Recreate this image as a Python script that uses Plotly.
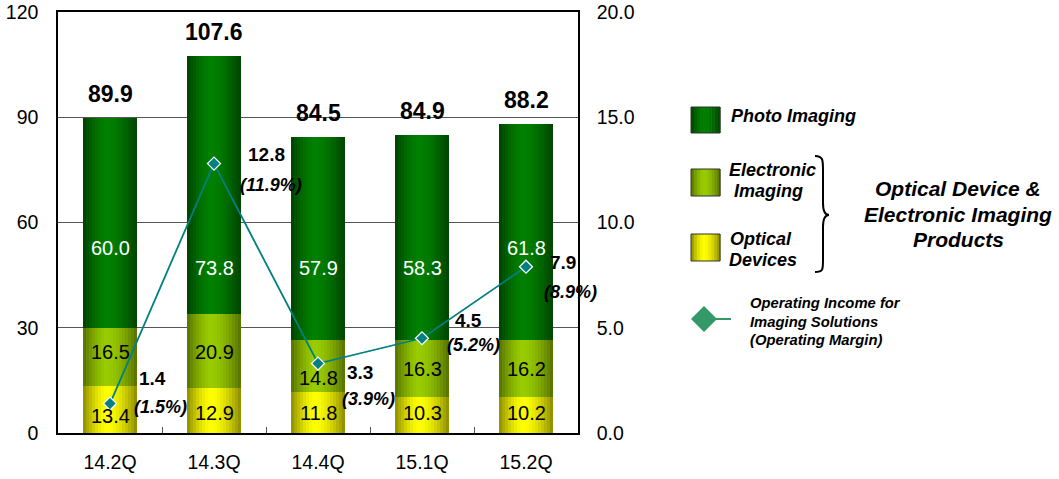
import plotly.graph_objects as go

# ---- data ----
quarters = ["14.2Q", "14.3Q", "14.4Q", "15.1Q", "15.2Q"]
optical_devices = [13.4, 12.9, 11.8, 10.3, 10.2]
electronic_imaging = [16.5, 20.9, 14.8, 16.3, 16.2]
photo_imaging = [60.0, 73.8, 57.9, 58.3, 61.8]
totals = [89.9, 107.6, 84.5, 84.9, 88.2]
operating_income = [1.4, 12.8, 3.3, 4.5, 7.9]
operating_margin = [1.5, 11.9, 3.9, 5.2, 8.9]

# ---- geometry of the page (pixels) ----
W, H = 1059, 479
PL, PR, PT, PB = 58, 578, 12, 433   # plot area edges


def px(x):
    return (x - PL) / (PR - PL)


def py(y):
    return (PB - y) / (PB - PT)


def mix(c1, c2, t):
    return "rgb(%d,%d,%d)" % tuple(round(a + (b - a) * t) for a, b in zip(c1, c2))


def shade(pos, peak=0.45, power=1.6):
    d = abs(pos - peak) / (peak if pos < peak else 1 - peak)
    return 1 - min(d, 1) ** power


FONT = "Liberation Sans, Arial, sans-serif"
fig = go.Figure()

# ---- stacked bars with a horizontal shading (edge dark -> centre bright) ----
BAR_W = 0.52
N_SLICES = 18
PHOTO_C = ((0x00, 0x42, 0x00), (0x00, 0x80, 0x00))
ELEC_C = ((0x55, 0x70, 0x00), (0x99, 0xcc, 0x00))
OPT_C = ((0x8a, 0x8a, 0x00), (0xff, 0xff, 0x00))
segments = [
    (optical_devices, [0.0] * 5, OPT_C),
    (electronic_imaging, optical_devices, ELEC_C),
    (photo_imaging, [a + b for a, b in zip(optical_devices, electronic_imaging)], PHOTO_C),
]
sw = BAR_W / N_SLICES
for vals, base, (edge, centre) in segments:
    for i in range(N_SLICES):
        t = shade((i + 0.5) / N_SLICES)
        fig.add_trace(go.Bar(
            x=quarters, y=vals, base=base,
            width=sw * 1.2 if i < N_SLICES - 1 else sw, offset=-BAR_W / 2 + i * sw,
            marker=dict(color=mix(edge, centre, t), line=dict(width=0)),
            showlegend=False, hoverinfo="skip",
        ))

# ---- operating income line ----
fig.add_trace(go.Scatter(
    x=quarters, y=operating_income, yaxis="y2", mode="lines+markers",
    line=dict(color="#008080", width=1.8),
    marker=dict(symbol="diamond", size=10, color="#008080",
                line=dict(color="white", width=1.2)),
    showlegend=False, hoverinfo="skip",
))

ann = []

# segment labels (pixel rows for each label)
photo_rows = [248, 268, 268, 268, 248]
elec_rows = [352, 352, 378, 369, 369]
opt_rows = [416, 413, 413, 413, 413]
for vals, rows, col in [(photo_imaging, photo_rows, "white"),
                        (electronic_imaging, elec_rows, "black"),
                        (optical_devices, opt_rows, "black")]:
    for q, v, r in zip(quarters, vals, rows):
        ann.append(dict(x=q, xref="x", y=py(r), yref="paper", text=f"{v:.1f}",
                        xanchor="center", yanchor="middle", showarrow=False,
                        font=dict(family=FONT, size=20, color=col)))

# totals above the bars
for q, t in zip(quarters, totals):
    ann.append(dict(x=q, xref="x", y=t, yref="y", text=f"<b>{t:.1f}</b>",
                    xanchor="center", yanchor="bottom", yshift=9, showarrow=False,
                    font=dict(family=FONT, size=23, color="black")))

# operating income / margin labels
val_off = [(42, -25), (52, -9), (42, 9), (46, -18), (37, -4)]
mar_off = [(50, 3), (57, 21), (50, 35), (51, 7), (44, 25)]
for q, v, m, (vx, vy), (mx, my) in zip(quarters, operating_income, operating_margin,
                                       val_off, mar_off):
    ann.append(dict(x=q, xref="x", y=v, yref="y2", text=f"<b>{v:.1f}</b>",
                    xanchor="center", yanchor="middle",
                    xshift=vx, yshift=-vy, showarrow=False,
                    font=dict(family=FONT, size=19, color="black")))
    ann.append(dict(x=q, xref="x", y=v, yref="y2", text=f"<b><i>({m:.1f}%)</i></b>",
                    xanchor="center", yanchor="middle",
                    xshift=mx, yshift=-my, showarrow=False,
                    font=dict(family=FONT, size=18, color="black")))

# ---- legend (drawn manually) ----
shapes = []
legend_boxes = [(107, 133, PHOTO_C), (169, 196, ELEC_C), (234, 261, OPT_C)]
BX0, BX1, NB = 691, 720, 10
for top, bot, (edge, centre) in legend_boxes:
    step = (BX1 - BX0) / NB
    for i in range(NB):
        t = shade((i + 0.5) / NB)
        shapes.append(dict(type="rect", xref="paper", yref="paper",
                           x0=px(BX0 + i * step), x1=px(BX0 + (i + 1) * step + 0.5),
                           y0=py(bot), y1=py(top),
                           fillcolor=mix(edge, centre, t), line=dict(width=0)))
    shapes.append(dict(type="rect", xref="paper", yref="paper",
                       x0=px(BX0), x1=px(BX1), y0=py(bot), y1=py(top),
                       fillcolor="rgba(0,0,0,0)", line=dict(color="#333333", width=1)))

legend_lines = [
    (729, 116, "Photo Imaging", 18),
    (727, 170, "Electronic", 18),
    (732, 191, "Imaging", 18),
    (728, 239, "Optical", 18),
    (727, 260, "Devices", 18),
    (748, 303, "Operating Income for", 14.8),
    (748, 322, "Imaging Solutions", 14.8),
    (748, 340, "(Operating Margin)", 14.8),
]
for x, y, t, s in legend_lines:
    ann.append(dict(x=px(x), y=py(y), xref="paper", yref="paper",
                    text=f"<b><i>{t}</i></b>", xanchor="left", yanchor="middle",
                    showarrow=False, font=dict(family=FONT, size=s, color="black")))

for y, t in [(189, "Optical Device &amp;"), (214, "Electronic Imaging"), (239, "Products")]:
    ann.append(dict(x=px(958), y=py(y), xref="paper", yref="paper",
                    text=f"<b><i>{t}</i></b>", xanchor="center", yanchor="middle",
                    showarrow=False, font=dict(family=FONT, size=21, color="black")))

# brace
pts = [(815, 156), (823, 156), (823, 160), (823, 170), (823, 203), (823, 212),
       (825, 215), (829, 215), (825, 215), (823, 218), (823, 227), (823, 260),
       (823, 270), (823, 272), (815, 272)]
P = [(px(a), py(b)) for a, b in pts]
path = "M {0},{1} C {2},{3} {4},{5} {6},{7} L {8},{9} C {10},{11} {12},{13} {14},{15} " \
       "C {16},{17} {18},{19} {20},{21} L {22},{23} C {24},{25} {26},{27} {28},{29}".format(
           *[c for p in P for c in p])
shapes.append(dict(type="path", xref="paper", yref="paper", path=path,
                   line=dict(color="black", width=2)))

# legend diamond + line
cx, cy, r = 704, 319, 13
shapes.append(dict(type="line", xref="paper", yref="paper",
                   x0=px(712), x1=px(731), y0=py(cy), y1=py(cy),
                   line=dict(color="#339966", width=2)))
shapes.append(dict(type="path", xref="paper", yref="paper",
                   path=f"M {px(cx - r)},{py(cy)} L {px(cx)},{py(cy - r)} "
                        f"L {px(cx + r)},{py(cy)} L {px(cx)},{py(cy + r)} Z",
                   fillcolor="#339966", line=dict(width=0)))

fig.update_layout(
    width=W, height=H,
    margin=dict(l=PL, r=W - PR, t=PT, b=H - PB, autoexpand=False),
    paper_bgcolor="white", plot_bgcolor="white",
    barmode="overlay", bargap=0,
    font=dict(family=FONT, size=19, color="black"),
    xaxis=dict(type="category", range=[-0.5, 4.5], showline=True, mirror=True,
               linecolor="black", linewidth=1.5, ticks="inside", tickson="boundaries",
               ticklen=6, tickcolor="#555555", showgrid=False,
               tickfont=dict(size=19.5), ticklabelstandoff=11),
    yaxis=dict(range=[0, 120], tickvals=[0, 30, 60, 90, 120], showline=True,
               linecolor="black", linewidth=1.5, showgrid=True, gridcolor="#555555",
               gridwidth=1, zeroline=False, ticks="", tickfont=dict(size=19.5),
               ticklabelstandoff=14),
    yaxis2=dict(range=[0, 20], tickvals=[0, 5, 10, 15, 20], overlaying="y", side="right",
                showline=True, linecolor="black", linewidth=1.5, showgrid=False,
                zeroline=False, ticks="", tickformat=".1f", tickfont=dict(size=19.5),
                ticklabelstandoff=13),
    annotations=ann, shapes=shapes,
)

fig.write_html("out.html")
